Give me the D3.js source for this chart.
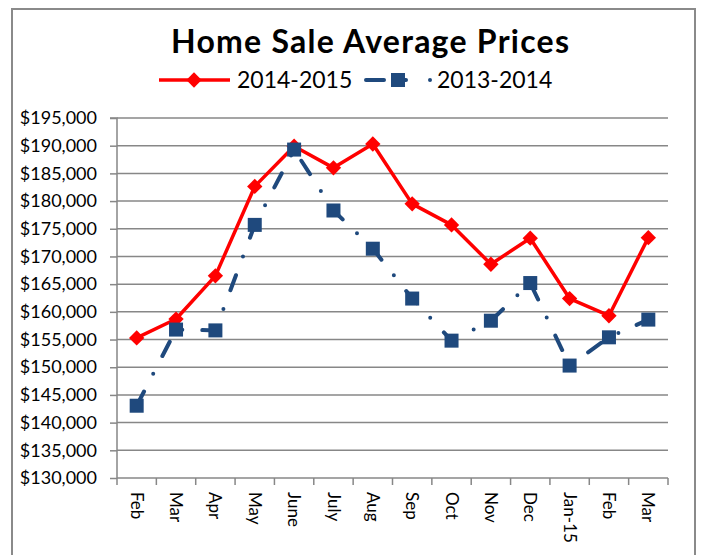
<!DOCTYPE html>
<html lang="en">
<head>
    <meta charset="UTF-8">
    <title>Home Sale Average Prices</title>
    <script src="https://d3js.org/d3.v7.min.js"></script>
    <style>
        html,
        body {
            margin: 0;
            height: 100%;
            overflow: hidden;
            background: #fff;
        }
        text {
            font-family: Lato, "Open Sans", sans-serif;
        }
    </style>
</head>
<body>
    <svg id="svg"></svg>
    <script>
        // data
        const months = ['Feb', 'Mar', 'Apr', 'May', 'June', 'July', 'Aug', 'Sep', 'Oct', 'Nov', 'Dec', 'Jan-15', 'Feb', 'Mar'];
        const prices1415 = [155300, 158700, 166500, 182650, 189900, 186000, 190300, 179500, 175700, 168600, 173300, 162400, 159300, 173400];
        const prices1314 = [143050, 156800, 156650, 175700, 189300, 178300, 171400, 162400, 154800, 158400, 165200, 150300, 155400, 158600];
        const yTicks = [130000, 135000, 140000, 145000, 150000, 155000, 160000, 165000, 170000, 175000, 180000, 185000, 190000, 195000];

        const width = 701, height = 555;
        const svg = d3.select('#svg').attr('width', width).attr('height', height);
        const margin = { top: 118, left: 117, bottom: 77, right: 33 };
        const innerWidth = width - margin.left - margin.right;
        const innerHeight = height - margin.top - margin.bottom;

        const red = '#ff0000';
        const blue = '#1f497d';
        const gridColor = '#878787';

        // outer frame
        svg.append('rect')
            .attr('x', 12).attr('y', 9)
            .attr('width', 683).attr('height', 560)
            .attr('fill', 'none').attr('stroke', '#8a8a8a').attr('stroke-width', 2);

        svg.append('text')
            .attr('x', 370).attr('y', 53)
            .attr('text-anchor', 'middle')
            .attr('font-size', 32).attr('font-weight', 'bold')
            .attr('textLength', 398).attr('lengthAdjust', 'spacing')
            .text('Home Sale Average Prices');

        const g = svg.append('g').attr('transform', `translate(${margin.left}, ${margin.top})`);

        const x = d3.scaleBand().domain(d3.range(months.length)).range([0, innerWidth]);
        const y = d3.scaleLinear().domain([130000, 195000]).range([innerHeight, 0]);

        // gridlines
        g.selectAll('.grid').data(yTicks.slice(1)).join('line')
            .attr('class', 'grid')
            .attr('x1', 0).attr('x2', innerWidth)
            .attr('y1', d => y(d)).attr('y2', d => y(d))
            .attr('stroke', gridColor).attr('stroke-width', 1.5);

        const yAxis = d3.axisLeft(y)
            .tickValues(yTicks)
            .tickSize(7)
            .tickPadding(13)
            .tickFormat(d3.format('$,'));
        const yg = g.append('g').call(yAxis);
        yg.selectAll('line, path').attr('stroke', gridColor).attr('stroke-width', 1.5);
        yg.select('.domain').attr('d', `M-7,0H0V${innerHeight}`);
        yg.selectAll('text').attr('font-size', 18).attr('fill', '#000').attr('font-family', 'Lato');

        // x axis with ticks at the band edges
        const xg = g.append('g').attr('transform', `translate(0, ${innerHeight})`);
        xg.append('line')
            .attr('x1', 0).attr('x2', innerWidth)
            .attr('stroke', gridColor).attr('stroke-width', 1.5);
        xg.selectAll('.xtick').data(d3.range(months.length + 1)).join('line')
            .attr('class', 'xtick')
            .attr('x1', i => i * x.step()).attr('x2', i => i * x.step())
            .attr('y1', 0).attr('y2', 7)
            .attr('stroke', gridColor).attr('stroke-width', 1.5);
        xg.selectAll('.xlabel').data(months).join('text')
            .attr('class', 'xlabel')
            .attr('transform', (d, i) => `translate(${x(i) + x.bandwidth() / 2}, 14) rotate(90)`)
            .attr('dy', '0.35em')
            .attr('font-size', 17)
            .text(d => d);

        const line = d3.line()
            .x((d, i) => x(i) + x.bandwidth() / 2)
            .y(d => y(d));

        const diamond = d3.symbol().type(d3.symbolDiamond2).size(150);

        // 2014-2015
        g.append('path')
            .attr('d', line(prices1415))
            .attr('fill', 'none').attr('stroke', red)
            .attr('stroke-width', 3.5).attr('stroke-linejoin', 'round');
        g.selectAll('.dia').data(prices1415).join('path')
            .attr('class', 'dia')
            .attr('transform', (d, i) => `translate(${x(i) + x.bandwidth() / 2}, ${y(d)})`)
            .attr('d', diamond)
            .attr('fill', red);

        // 2013-2014
        g.append('path')
            .attr('d', line(prices1314))
            .attr('fill', 'none').attr('stroke', blue)
            .attr('stroke-width', 4).attr('stroke-linecap', 'round')
            .attr('stroke-dasharray', '16,20,0,20');
        g.selectAll('.sq').data(prices1314).join('rect')
            .attr('class', 'sq')
            .attr('x', (d, i) => x(i) + x.bandwidth() / 2 - 7)
            .attr('y', d => y(d) - 7)
            .attr('width', 14).attr('height', 14)
            .attr('fill', blue);

        // legend
        const lg = svg.append('g');
        lg.append('line')
            .attr('x1', 159).attr('x2', 230).attr('y1', 80).attr('y2', 80)
            .attr('stroke', red).attr('stroke-width', 3.5);
        lg.append('path')
            .attr('transform', 'translate(194, 80)')
            .attr('d', diamond)
            .attr('fill', red);
        lg.append('text')
            .attr('x', 237).attr('y', 88)
            .attr('font-size', 23)
            .text('2014-2015');
        lg.append('line')
            .attr('x1', 366).attr('x2', 434).attr('y1', 80).attr('y2', 80)
            .attr('stroke', blue).attr('stroke-width', 4).attr('stroke-linecap', 'round')
            .attr('stroke-dasharray', '18,12,10,24,0,100');
        lg.append('rect')
            .attr('x', 391).attr('y', 73).attr('width', 14).attr('height', 14)
            .attr('fill', blue);
        lg.append('text')
            .attr('x', 437).attr('y', 88)
            .attr('font-size', 23)
            .text('2013-2014');
    </script>
</body>
</html>
